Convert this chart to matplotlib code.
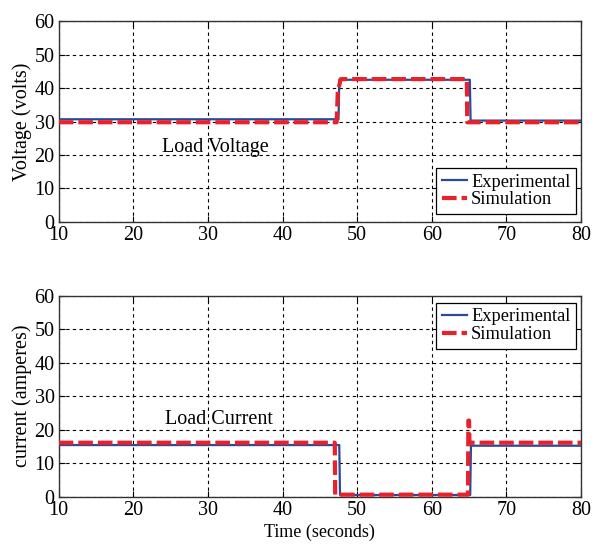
import matplotlib
matplotlib.use("Agg")
import matplotlib.pyplot as plt

plt.rcParams['font.family'] = ['Liberation Serif', 'DejaVu Serif']

# ---- data (time in seconds) ----
volt_exp_t = [10, 47.5, 47.6, 65.1, 65.2, 80]
volt_exp_v = [30.7, 30.7, 42.5, 42.5, 30.3, 30.3]
volt_sim_t = [10, 47.25, 47.4, 47.8, 64.7, 64.75, 80]
volt_sim_v = [29.8, 29.8, 39.0, 42.7, 42.7, 29.8, 29.8]

curr_exp_t = [10, 47.6, 47.7, 65.15, 65.25, 80]
curr_exp_v = [15.4, 15.4, 0.5, 0.5, 15.2, 15.2]
curr_sim_t = [10, 47.0, 47.05, 64.85, 64.9, 65.0, 65.05, 80]
curr_sim_v = [16.1, 16.1, 0.6, 0.6, 22.7, 22.7, 16.1, 16.1]

xticks = [10, 20, 30, 40, 50, 60, 70, 80]
yticks = [0, 10, 20, 30, 40, 50, 60]

BLUE = '#2a4b9b'
RED = '#e8212b'

fig = plt.figure(figsize=(5.95, 5.44), dpi=100)
ax1 = fig.add_axes([0.0987, 0.592, 0.8778, 0.369])
ax2 = fig.add_axes([0.0987, 0.087, 0.8778, 0.3697])

def style(ax):
    ax.set_xlim(10, 80)
    ax.set_ylim(0, 60)
    ax.set_xticks(xticks)
    ax.set_yticks(yticks)
    ax.grid(True, color='black', linestyle=(0, (3, 3)), linewidth=0.8)
    ax.tick_params(direction='in', length=4, width=0.8, top=True, right=True,
                   labelsize=14.5, pad=3, colors='black')
    for s in ax.spines.values():
        s.set_linewidth(1.0)
        s.set_color('#333333')

for ax, (et, ev, st, sv) in [
    (ax1, (volt_exp_t, volt_exp_v, volt_sim_t, volt_sim_v)),
    (ax2, (curr_exp_t, curr_exp_v, curr_sim_t, curr_sim_v)),
]:
    style(ax)
    ax.plot(et, ev, color=BLUE, linewidth=1.6, label='Experimental', zorder=3)
    ax.plot(st, sv, color=RED, linewidth=3.0, dashes=(3.5, 1.2),
            label='Simulation', zorder=4)

ax1.set_ylabel('Voltage (volts)', fontsize=14.5, labelpad=2)
ax2.set_ylabel('current (amperes)', fontsize=14.5, labelpad=2)
ax2.set_xlabel('Time (seconds)', fontsize=13, labelpad=3)

ax1.text(23.8, 22.2, 'Load Voltage', fontsize=14.5, va='center', ha='left')
ax2.text(24.3, 23.1, 'Load Current', fontsize=14.5, va='center', ha='left')

leg_kw = dict(fontsize=13.2, handlelength=1.4, handletextpad=0.2,
              labelspacing=0.05, borderpad=0.3, borderaxespad=0,
              fancybox=False, framealpha=1, edgecolor='black')
l1 = ax1.legend(loc='lower right', bbox_to_anchor=(0.9904, 0.04), **leg_kw)
l2 = ax2.legend(loc='upper right', bbox_to_anchor=(0.9904, 0.9637), **leg_kw)
for l in (l1, l2):
    l.get_frame().set_linewidth(0.9)

fig.savefig('out.png', dpi=100)
